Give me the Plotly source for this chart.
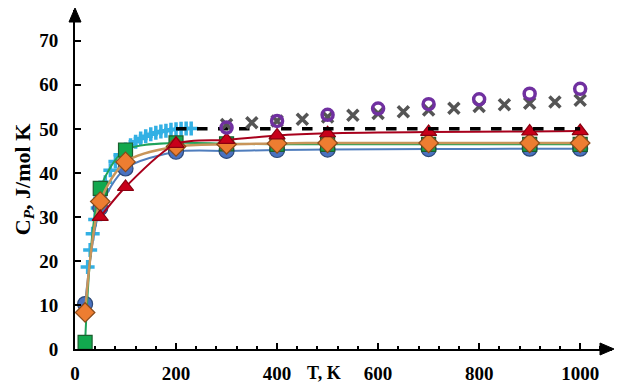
import plotly.graph_objects as go

# ---- data ----
T_blue = [20, 50, 100, 200, 300, 400, 500, 700, 900, 1000]
Cp_blue = [10.2, 32.0, 41.0, 44.8, 45.0, 45.2, 45.3, 45.4, 45.5, 45.5]

T_green = [20, 50, 100, 200, 300, 400, 500, 700, 900, 1000]
Cp_green = [1.5, 36.5, 45.2, 46.8, 46.6, 46.5, 46.5, 46.5, 46.5, 46.5]

T_orange = [20, 50, 100, 200, 300, 400, 500, 700, 900, 1000]
Cp_orange = [8.3, 33.5, 42.5, 46.0, 46.5, 46.7, 46.8, 46.8, 46.8, 46.8]

T_red = [50, 100, 200, 300, 400, 500, 700, 900, 1000]
Cp_red = [30.0, 36.8, 46.6, 47.5, 48.5, 49.0, 49.3, 49.4, 49.5]

T_plus = [25, 30, 35, 40, 45, 50, 55, 60, 70, 80, 90, 100, 110, 120, 130, 140,
          150, 160, 170, 180, 190, 200, 210, 220, 230]
Cp_plus = [18.6, 22.5, 26.2, 29.4, 32.0, 34.3, 36.2, 37.9, 40.6, 42.6, 44.1, 45.3,
           46.3, 47.1, 47.8, 48.3, 48.8, 49.1, 49.4, 49.6, 49.8, 49.9, 50.0, 50.1, 50.1]

T_dash = [200, 1000]
Cp_dash = [50.0, 50.0]

T_x = [300, 350, 400, 450, 500, 550, 600, 650, 700, 750, 800, 850, 900, 950, 1000]
Cp_x = [51.0, 51.4, 51.8, 52.2, 52.7, 53.1, 53.5, 53.9, 54.3, 54.7, 55.1, 55.5,
        55.8, 56.1, 56.5]

T_purple = [300, 400, 500, 600, 700, 800, 900, 1000]
Cp_purple = [50.3, 51.8, 53.2, 54.6, 55.6, 56.7, 58.0, 59.1]

x_ticks = [0, 200, 400, 600, 800, 1000]
y_ticks = [0, 10, 20, 30, 40, 50, 60, 70]

FONT = "Liberation Serif"

fig = go.Figure()

# light-blue crosses drawn first (behind the other series)
fig.add_trace(go.Scatter(
    x=T_plus, y=Cp_plus, mode="markers",
    marker=dict(symbol="cross-thin", size=10, color="#33B0E4",
                line=dict(color="#33B0E4", width=3.5)),
    showlegend=False))

def series(T, Cp, line_color, symbol, fill, outline, size=14, lw=2):
    fig.add_trace(go.Scatter(
        x=T, y=Cp, mode="lines+markers",
        line=dict(color=line_color, width=lw, shape="spline", smoothing=0.8),
        marker=dict(symbol=symbol, size=size, color=fill,
                    line=dict(color=outline, width=1.2)),
        showlegend=False))

series(T_blue, Cp_blue, "#4F7DBD", "circle", "#4A72C0", "#2E4A7A", 15)
series(T_green, Cp_green, "#1FA35A", "square", "#12A84E", "#1B5E2E", 14)
series(T_orange, Cp_orange, "#C8955A", "diamond", "#ED7D31", "#8A4A1A", 15, 2.5)
series(T_red, Cp_red, "#A8001C", "triangle-up", "#C8001A", "#8A0010", 14)

fig.add_trace(go.Scatter(
    x=T_dash, y=Cp_dash, mode="lines",
    line=dict(color="black", width=3.5, dash="dash"),
    showlegend=False))

fig.add_trace(go.Scatter(
    x=T_x, y=Cp_x, mode="markers",
    marker=dict(symbol="x-thin", size=11, color="#555555",
                line=dict(color="#555555", width=3.5)),
    showlegend=False))

fig.add_trace(go.Scatter(
    x=T_purple, y=Cp_purple, mode="markers",
    marker=dict(symbol="circle-open", size=11, color="#7030A0",
                line=dict(color="#7030A0", width=3.5)),
    showlegend=False))

fig.update_layout(
    width=617, height=383,
    margin=dict(l=75, r=5, t=10, b=34, autoexpand=False),
    paper_bgcolor="white", plot_bgcolor="white",
    font=dict(family=FONT, size=19, color="black"),
    xaxis=dict(range=[0, 1063], tickvals=x_ticks, ticktext=[str(v) for v in x_ticks],
               showline=True, linecolor="black", linewidth=2,
               ticks="inside", ticklen=6, tickwidth=2, tickcolor="black",
               minor=dict(dtick=40, tick0=0, ticks="inside", ticklen=3,
                          tickwidth=1.5, tickcolor="black"),
               showgrid=False, zeroline=False, automargin=False,
               tickfont=dict(family=FONT, size=19, weight="bold"),
               ticklabelstandoff=6),
    yaxis=dict(range=[0, 77], tickvals=y_ticks, ticktext=[str(v) for v in y_ticks],
               showline=True, linecolor="black", linewidth=2,
               ticks="inside", ticklen=6, tickwidth=2, tickcolor="black",
               showgrid=False, zeroline=False, automargin=False,
               tickfont=dict(family=FONT, size=19, weight="bold"),
               ticklabelstandoff=11,
               title=dict(text="C<sub><i>P</i></sub>, J/mol K",
                          font=dict(family=FONT, size=22, weight="bold"),
                          standoff=3)),
)

# axis arrowheads (pixel-sized paths anchored to the axis ends)
fig.add_shape(type="path", xref="paper", yref="paper",
              xsizemode="pixel", ysizemode="pixel", xanchor=1, yanchor=0,
              path="M 2 0 L -12 6 L -12 -6 Z",
              fillcolor="black", line=dict(color="black", width=1))
fig.add_shape(type="path", xref="paper", yref="paper",
              xsizemode="pixel", ysizemode="pixel", xanchor=0, yanchor=1,
              path="M 0 2 L -6 -12 L 6 -12 Z",
              fillcolor="black", line=dict(color="black", width=1))

# x-axis title
fig.add_annotation(x=492, y=0, xref="x", yref="paper", yanchor="middle", yshift=-24,
                   showarrow=False, text="T, K",
                   font=dict(family=FONT, size=18, weight="bold"))

fig.write_html("out.html")
